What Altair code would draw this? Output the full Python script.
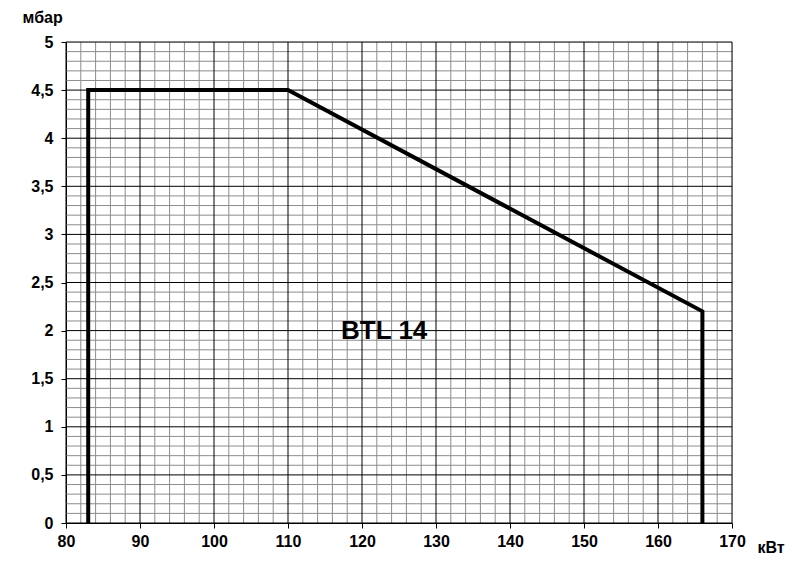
import altair as alt
import pandas as pd

# Curve points (kW, mbar)
curve_x = [83, 83, 110, 166, 166]
curve_y = [0, 4.5, 4.5, 2.2, 0]

major_x = list(range(80, 171, 10))
minor_x = [v for v in range(80, 171, 2) if v % 10 != 0]
major_y = [i * 0.5 for i in range(0, 11)]
minor_y = [round(i * 0.1, 1) for i in range(0, 51) if i % 5 != 0]

label_text = ["BTL 14"]
label_x = [123]
label_y = [2.0]

W, H = 666, 481
FONT = "Liberation Sans"

xs = alt.Scale(domain=[80, 170], nice=False, zero=False)
ys = alt.Scale(domain=[0, 5], nice=False)

x_axis = alt.Axis(
    values=major_x, title="кВт", titleFont=FONT, titleFontSize=16, titleFontWeight="bold",
    titleColor="black", titleAngle=0, titleAlign="left", titleBaseline="alphabetic",
    titleX=691, titleY=29,
    labelFont=FONT, labelFontSize=16, labelFontWeight="bold", labelColor="black",
    tickSize=5, tickColor="black", domainColor="black", labelPadding=5,
    grid=False, labelFlush=False)
y_axis = alt.Axis(
    values=major_y, title="мбар", titleFont=FONT, titleFontSize=16, titleFontWeight="bold",
    titleColor="black", titleAngle=0, titleAlign="left", titleBaseline="alphabetic",
    titleX=-44, titleY=-20,
    labelFont=FONT, labelFontSize=16, labelFontWeight="bold", labelColor="black",
    labelExpr="replace(format(datum.value, '~g'), '.', ',')",
    tickSize=5, tickColor="black", domainColor="black", labelPadding=8,
    grid=False, labelFlush=False)


def X(f="x"):
    return alt.X(f"{f}:Q", scale=xs, axis=x_axis)


def Y(f="y"):
    return alt.Y(f"{f}:Q", scale=ys, axis=y_axis)


curve_df = pd.DataFrame({"x": curve_x, "y": curve_y, "o": list(range(len(curve_x)))})

minor_v = alt.Chart(pd.DataFrame({"x": minor_x})).mark_rule(color="#8c8c8c", strokeWidth=1).encode(x=X())
minor_h = alt.Chart(pd.DataFrame({"y": minor_y})).mark_rule(color="#8c8c8c", strokeWidth=1).encode(y=Y())
major_v = alt.Chart(pd.DataFrame({"x": major_x})).mark_rule(color="black", strokeWidth=1).encode(x=X())
major_h = alt.Chart(pd.DataFrame({"y": major_y})).mark_rule(color="black", strokeWidth=1).encode(y=Y())

line = alt.Chart(curve_df).mark_line(color="black", strokeWidth=4, strokeJoin="miter").encode(
    x=X(), y=Y(), order="o:Q")

label = alt.Chart(pd.DataFrame({"x": label_x, "y": label_y, "t": label_text})).mark_text(
    font=FONT, fontSize=26, fontWeight="bold", color="black", align="center", baseline="middle"
).encode(x=X(), y=Y(), text="t:N")

chart = alt.layer(minor_v, minor_h, major_v, major_h, line, label).properties(
    width=W, height=H,
    autosize=alt.AutoSizeParams(type="none"),
    padding={"left": 58, "top": 34, "right": 54, "bottom": 40},
).configure_view(stroke=None).configure(background="white")

chart.save("out.html", embed_options={"renderer": "svg", "actions": False})
